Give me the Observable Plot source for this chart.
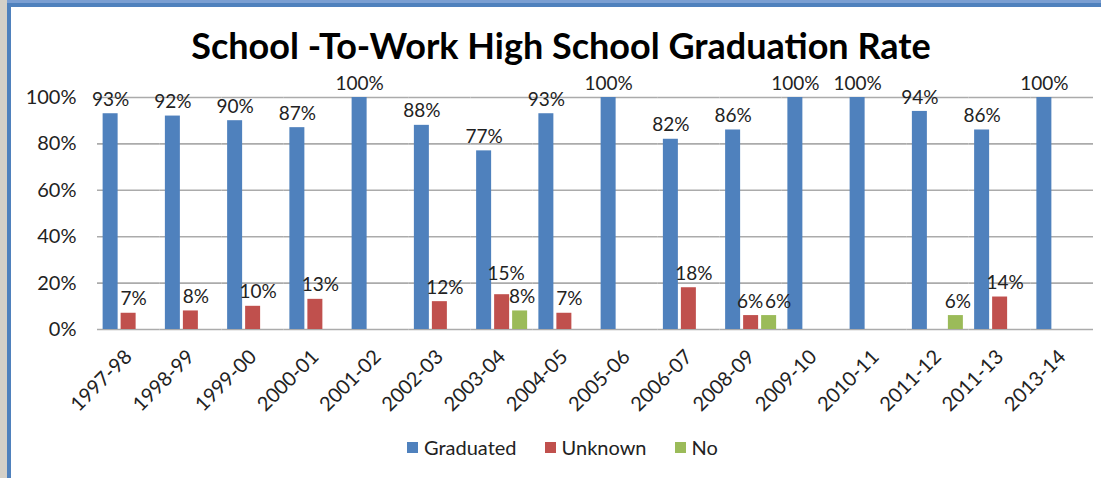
<!DOCTYPE html>
<html>
<head>
<meta charset="utf-8">
<script src="https://cdn.jsdelivr.net/npm/d3@7"></script>
<script src="https://cdn.jsdelivr.net/npm/@observablehq/plot@0.6"></script>
<style>
  html, body { margin: 0; padding: 0; background: #fff; }
  #wrap { position: relative; width: 1101px; height: 478px; overflow: hidden; background: #fff; font-family: Lato, "Open Sans", sans-serif; color: #222; }
  #leftgray { position: absolute; left: 0; top: 0; width: 7px; height: 478px; background: #d4d0c8; }
  #leftblue { position: absolute; left: 7px; top: 0; width: 4px; height: 478px; background: #4f81bd; }
  #toplight { position: absolute; left: 7px; top: 0; width: 1094px; height: 3px; background: #7b9fd2; }
  #topdark { position: absolute; left: 7px; top: 3px; width: 1094px; height: 4px; background: #4f81bd; }
  #title { position: absolute; top: 27px; left: 561px; transform: translateX(-50%); white-space: nowrap; font-size: 36px; font-weight: bold; line-height: 36px; color: #000; }
  #chart { position: absolute; left: 0; top: 0; }
  #legend { position: absolute; top: 436px; left: 407px; display: flex; align-items: center; font-size: 20px; line-height: 22px; color: #222; }
  .item { display: flex; align-items: center; margin-right: 28px; }
  .sw { width: 11px; height: 11px; margin-right: 6px; }
</style>
</head>
<body>
<div id="wrap">
  <div id="leftgray"></div>
  <div id="leftblue"></div>
  <div id="toplight"></div>
  <div id="topdark"></div>
  <div id="chart"></div>
  <div id="title">School -To-Work High School Graduation Rate</div>
  <div id="legend"></div>
</div>
<script>
const years = ["1997-98","1998-99","1999-00","2000-01","2001-02","2002-03","2003-04","2004-05","2005-06","2006-07","2008-09","2009-10","2010-11","2011-12","2011-13","2013-14"];
const graduated = [93, 92, 90, 87, 100, 88, 77, 93, 100, 82, 86, 100, 100, 94, 86, 100];
const unknown   = [7, 8, 10, 13, 0, 12, 15, 7, 0, 18, 6, 0, 0, 0, 14, 0];
const no        = [0, 0, 0, 0, 0, 0, 8, 0, 0, 0, 6, 0, 0, 6, 0, 0];
const seriesNames = ["Graduated", "Unknown", "No"];
const seriesColors = ["#4F81BD", "#C0504D", "#9BBB59"];
const yTicks = [0, 20, 40, 60, 80, 100];

const seriesValues = [graduated, unknown, no];
const table = years.flatMap((year, i) =>
  seriesNames.map((s, j) => ({year, series: s, value: seriesValues[j][i], i}))
).filter(d => d.value > 0);

// simple label collision handling between the Unknown and No labels of one year
function pairGap(d) {
  const u = unknown[d.i], n = no[d.i];
  if (!(u > 0 && n > 0)) return null;
  return Math.abs(u - n);
}
const sideBySide = d => { const g = pairGap(d); return g !== null && g < 4; };
const stacked = d => { const g = pairGap(d); return g !== null && g >= 4 && g < 10; };

const lbl = d => d.value + "%";
const textOpts = {fx: "year", x: "series", y: "value", text: lbl, fill: "#222", fontSize: 19};

const chart = Plot.plot({
  width: 1101,
  height: 420,
  marginLeft: 97,
  marginRight: 8,
  marginTop: 97,
  marginBottom: 91,
  style: {fontFamily: "Lato, 'Open Sans', sans-serif", fontSize: "20px", color: "#222", background: "transparent"},
  fx: {domain: years, padding: 0, round: false, label: null, axis: "bottom", tickRotate: -45, tickSize: 0, tickPadding: 24},
  x: {domain: seriesNames, axis: null, round: false, paddingInner: 0.167, paddingOuter: 0.3125},
  y: {domain: [0, 100], ticks: yTicks, tickFormat: d => d + "%", tickSize: 0, tickPadding: 21, label: null},
  color: {domain: seriesNames, range: seriesColors},
  marks: [
    Plot.ruleY(yTicks, {stroke: "#ababab", strokeWidth: 1.6}),
    Plot.barY(table, {fx: "year", x: "series", y: "value", fill: "series"}),
    // Graduated labels
    Plot.text(table.filter(d => d.series === "Graduated"), {...textOpts, dy: -14}),
    // Unknown labels
    Plot.text(table.filter(d => d.series === "Unknown" && !sideBySide(d) && !stacked(d)), {...textOpts, dy: -14, dx: 5}),
    Plot.text(table.filter(d => d.series === "Unknown" && stacked(d)), {...textOpts, dy: -21, dx: 4}),
    Plot.text(table.filter(d => d.series === "Unknown" && sideBySide(d)), {...textOpts, dy: -14, dx: -1}),
    // No labels
    Plot.text(table.filter(d => d.series === "No" && !sideBySide(d)), {...textOpts, dy: -14, dx: 2}),
    Plot.text(table.filter(d => d.series === "No" && sideBySide(d)), {...textOpts, dy: -14, dx: 9})
  ]
});
document.getElementById("chart").appendChild(chart);

const legend = document.getElementById("legend");
seriesNames.forEach((s, i) => {
  const item = document.createElement("div");
  item.className = "item";
  const sw = document.createElement("div");
  sw.className = "sw";
  sw.style.background = seriesColors[i];
  const t = document.createElement("span");
  t.textContent = s;
  item.appendChild(sw);
  item.appendChild(t);
  legend.appendChild(item);
});
</script>
</body>
</html>
